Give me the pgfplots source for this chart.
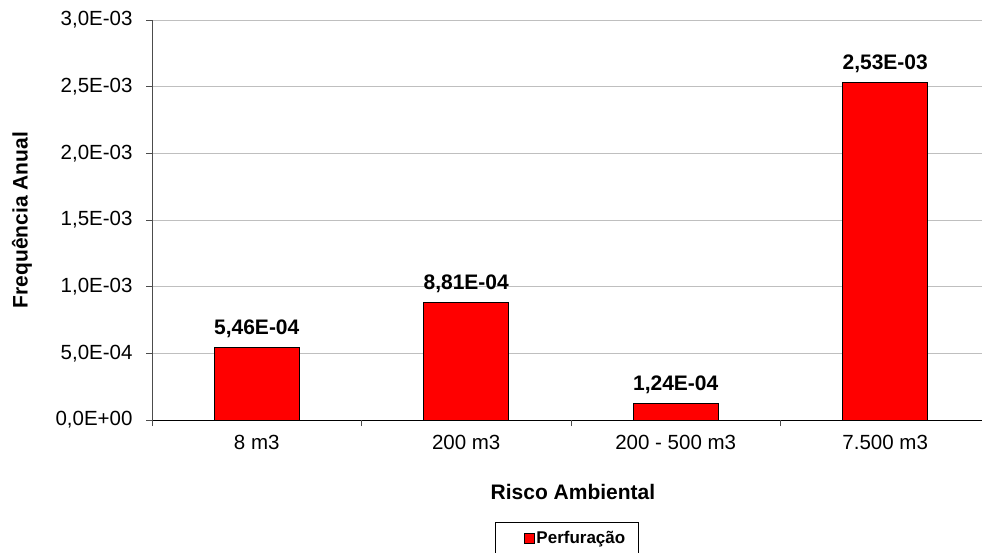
\documentclass[border=0pt]{standalone}
\usepackage{pgfplots}
\pgfplotsset{compat=1.18}
\usepackage{fontspec}
\setmainfont{Liberation Sans}
\begin{document}
\begin{tikzpicture}[x=1pt,y=1pt]
\begin{axis}[
  at={(152pt,132pt)}, anchor=south west,
  scale only axis, width=830pt, height=400pt,
  ybar, bar width=0.405,
  xmin=-0.5, xmax=3.462, ymin=0, ymax=0.003,
  axis x line*=bottom, axis y line*=left,
  x axis line style={black, line width=0.9pt, -},
  y axis line style={black!70, line width=0.9pt, -},
  scaled y ticks=false,
  ytick={0,0.0005,0.001,0.0015,0.002,0.0025,0.003},
  yticklabels={{0,0E+00},{5,0E-04},{1,0E-03},{1,5E-03},{2,0E-03},{2,5E-03},{3,0E-03}},
  ymajorgrids, grid style={black!25, line width=0.8pt},
  y tick style={black!70, line width=0.9pt},
  tick align=outside, major tick length=6pt,
  xtick={0,1,2,3},
  xticklabels={8 m3, 200 m3, 200 - 500 m3, 7.500 m3},
  x tick style={draw=none},
  extra x ticks={-0.5,0.5,1.5,2.5},
  extra x tick labels={},
  extra x tick style={grid=none, x tick style={draw=black!70, line width=0.9pt}},
  tick label style={font=\fontsize{20.5}{24}\selectfont},
  yticklabel style={xshift=-10pt},
  xticklabel style={yshift=-6pt},
  legend style={at={(0.5,-0.255)}, anchor=north, draw=black, line width=0.8pt,
    font=\bfseries\fontsize{17}{20}\selectfont, inner xsep=11pt, inner ysep=7pt},
  legend image code/.code={\path (0pt,0pt);
    \draw[fill=red, draw=black, line width=0.7pt] (17pt,-5pt) rectangle (27pt,5pt);},
]
\addplot[fill=red, draw=black, line width=0.8pt,
  nodes near coords, point meta=explicit symbolic,
  nodes near coords style={font=\bfseries\fontsize{21}{24}\selectfont, anchor=south, yshift=6pt}]
  table[meta=label] {
x y label
0 0.000546 5,46E-04
1 0.000881 8,81E-04
2 0.000124 1,24E-04
3 0.00253 2,53E-03
};
\addlegendentry{Perfuração}
\end{axis}
\node[font=\bfseries\fontsize{21}{24}\selectfont] at (573,60) {Risco Ambiental};
\node[font=\bfseries\fontsize{21}{24}\selectfont, rotate=90] at (22,332) {Frequência Anual};
\pgfresetboundingbox
\useasboundingbox (0,0) rectangle (982,552);
\end{tikzpicture}
\end{document}
